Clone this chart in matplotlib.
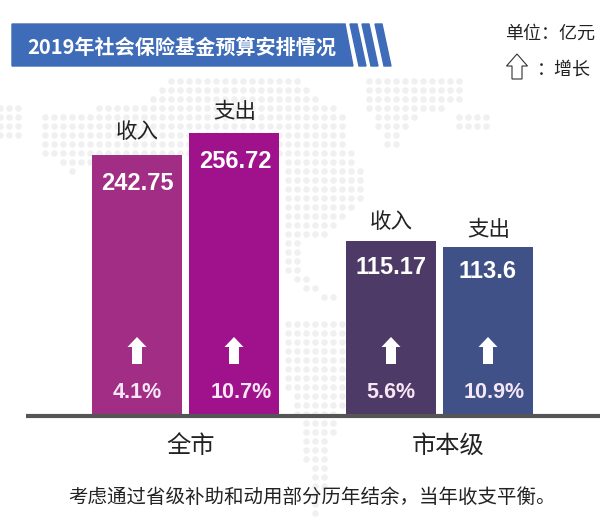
#!/usr/bin/env python3
import matplotlib
matplotlib.use('Agg')
import matplotlib.pyplot as plt
from matplotlib.patches import Polygon
from matplotlib.path import Path
import numpy as np

plt.rcParams['font.family'] = ['Noto Sans CJK SC', 'DejaVu Sans']

title = '2019年社会保险基金预算安排情况'
groups = ['全市', '市本级']
bar_names = ['收入', '支出', '收入', '支出']
amounts = ['242.75', '256.72', '115.17', '113.6']
growth = ['4.1%', '10.7%', '5.6%', '10.9%']
# the bars in the picture are not to scale, these are their drawn heights
bar_heights = [261, 283, 175, 169]
bar_colors = ['#a12d84', '#a0128c', '#4e3a66', '#3f5187']
BASE = 416
LATIN = ['Liberation Sans', 'DejaVu Sans']


def py(y):
    # picture row to axis value
    return BASE - y


def up_arrow(x, top, bottom, head_w, shaft_w, head_h, **kw):
    pts = [(x, top), (x + head_w / 2, top + head_h), (x + shaft_w / 2, top + head_h),
           (x + shaft_w / 2, bottom), (x - shaft_w / 2, bottom), (x - shaft_w / 2, top + head_h),
           (x - head_w / 2, top + head_h)]
    ax.add_patch(Polygon([(a, py(b)) for a, b in pts], closed=True, **kw))


fig = plt.figure(figsize=(6.1, 5.2), dpi=100)
ax = fig.add_axes([0, 0, 1, 1])
ax.set_xlim(0, 610)
ax.set_ylim(py(520), py(0))
ax.axis('off')

# dotted world map behind the bars
land = [
    [(0, 100), (25, 105), (25, 135), (0, 140)],
    [(43, 115), (150, 100), (165, 78), (295, 78), (345, 115), (345, 140), (300, 145), (280, 160), (180, 160), (70, 172), (43, 155)],
    [(295, 143), (345, 143), (365, 175), (362, 200), (325, 235), (282, 240), (282, 170)],
    [(282, 240), (300, 240), (302, 270), (335, 298), (325, 300), (295, 285), (282, 270)],
    [(363, 72), (465, 72), (460, 100), (420, 118), (405, 130), (398, 148), (385, 148), (368, 115)],
    [(458, 116), (488, 116), (488, 131), (458, 131)],
    [(285, 320), (345, 318), (347, 395), (328, 450), (322, 515), (308, 515), (305, 440), (285, 380)],
]
gx, gy = np.meshgrid(np.arange(0, 610, 9.0), np.arange(72, 520, 9.0))
pts = np.column_stack([gx.ravel(), gy.ravel()])
keep = np.zeros(len(pts), dtype=bool)
for poly in land:
    keep |= Path(poly).contains_points(pts)
ax.scatter(pts[keep, 0], py(pts[keep, 1]), s=22, marker='o', color='#f0f0f0', linewidths=0, zorder=1)

# title banner
BANNER = '#3f6cb8'
ax.add_patch(Polygon([(12, py(24)), (345, py(24)), (353, py(66)), (12, py(66))], color=BANNER, zorder=2))
for x0 in [350, 362, 375]:
    ax.add_patch(Polygon([(x0, py(24)), (x0 + 7, py(24)), (x0 + 16, py(66)), (x0 + 9, py(66))],
                         color=BANNER, zorder=2))
ax.text(182, py(47), title, color='white', fontsize=14.5, fontweight='bold',
        ha='center', va='center', zorder=3)

# unit note
ax.text(550, py(34), '单位：亿元', fontsize=13, ha='center', va='center', color='#222222')
up_arrow(517, 54, 79, 21, 10, 12, fc='white', ec='#333333', lw=0.8, zorder=3)
ax.text(564, py(70), '：增长', fontsize=13, ha='center', va='center', color='#222222')

bar_x = [137, 234, 391, 488]
amount_x = [137, 235, 391, 488]
amount_rows = [183, 161, 268, 271]
growth_x = [137, 241, 391, 494]
name_x = [137, 235, 391, 489]
name_rows = [132.5, 112.5, 222.5, 229.5]
ax.bar(bar_x, bar_heights, width=90.5, color=bar_colors, zorder=4)
ax.plot([26, 600], [0, 0], color='#555555', lw=3, zorder=5, solid_capstyle='butt')

for i, x in enumerate(bar_x):
    ax.text(name_x[i], py(name_rows[i]), bar_names[i], fontsize=15.5, ha='center', va='center',
            color='#222222', zorder=6)
    ax.text(amount_x[i], py(amount_rows[i]), amounts[i], fontsize=17, fontweight='bold', ha='center', va='center',
            color='white', family=LATIN, zorder=6)
    up_arrow(x, 337, 364, 19, 10, 10, fc='white', ec='none', zorder=6)
    ax.text(growth_x[i], py(393), growth[i], fontsize=15.5, fontweight='bold', ha='center', va='center',
            color='#f7e6f5', family=LATIN, zorder=6)

ax.text(191, py(446), groups[0], fontsize=17.5, ha='center', va='center', color='#222222')
ax.text(448, py(446), groups[1], fontsize=17.5, ha='center', va='center', color='#222222')
ax.text(312, py(497), '考虑通过省级补助和动用部分历年结余，当年收支平衡。', fontsize=14,
        ha='center', va='center', color='#222222')

fig.savefig('out.png', dpi=100)
